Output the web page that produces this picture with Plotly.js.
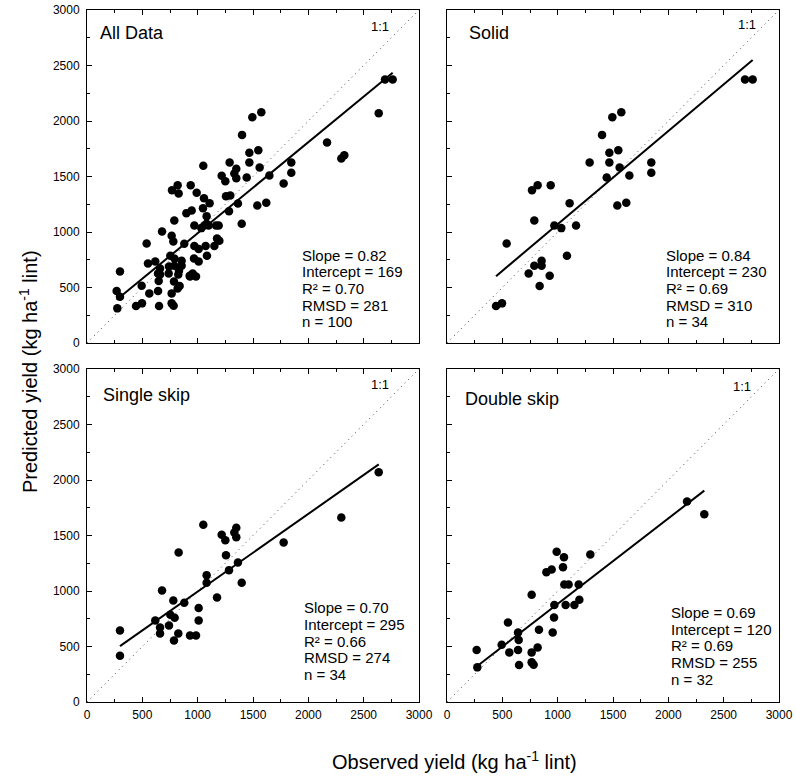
<!DOCTYPE html>
<html>
<head>
<meta charset="utf-8">
<script src="https://cdn.plot.ly/plotly-3.0.1.min.js"></script>
<style>html,body{margin:0;padding:0;background:#fff;}#chart{width:796px;height:782px;}</style>
</head>
<body>
<div id="chart"></div>
<script>
// ---- Data ----
const panelNames = ["All Data", "Solid", "Single skip", "Double skip"];

const solidObs  = [443, 497, 539, 738, 789, 855, 855, 837, 928, 789, 768, 819, 937, 970, 1033, 1084, 1108, 1166, 1289, 1401, 1443, 1467, 1467, 1494, 1548, 1575, 1560, 1648, 1539, 1620, 1846, 1846, 2693, 2762];
const solidPred = [333, 357, 897, 627, 696, 741, 696, 513, 606, 1104, 1377, 1422, 1422, 1059, 1035, 786, 1260, 1059, 1626, 1875, 1491, 1713, 1626, 2034, 1737, 2079, 1581, 1509, 1239, 1263, 1626, 1533, 2373, 2373];

const singleObs  = [298, 298, 617, 660, 660, 678, 741, 753, 780, 792, 786, 825, 828, 879, 931, 985, 1009, 1009, 1051, 1081, 1081, 1175, 1217, 1250, 1256, 1283, 1331, 1349, 1349, 1364, 1398, 1777, 2298, 2636];
const singlePred = [645, 417, 735, 672, 618, 1005, 690, 786, 915, 759, 555, 618, 1347, 894, 600, 600, 846, 735, 1596, 1074, 1143, 942, 1506, 1458, 1323, 1188, 1527, 1569, 1485, 1257, 1074, 1437, 1662, 2070];

const doubleObs  = [268, 274, 494, 551, 563, 642, 648, 642, 651, 765, 765, 765, 783, 819, 831, 898, 946, 955, 967, 970, 991, 1048, 1057, 1060, 1099, 1072, 1151, 1190, 1196, 1295, 2169, 2325];
const doublePred = [468, 312, 516, 717, 447, 627, 558, 468, 333, 966, 447, 357, 336, 492, 651, 1170, 1194, 627, 762, 873, 1353, 1215, 1305, 1059, 1059, 873, 873, 1059, 921, 1329, 1806, 1692];

// All Data panel = union of the three treatments (34 + 34 + 32 = 100)
const allObs  = solidObs.concat(singleObs, doubleObs);
const allPred = solidPred.concat(singlePred, doublePred);

// Statistics printed in each panel
const statSlope     = [0.82, 0.84, 0.70, 0.69];
const statIntercept = [169, 230, 295, 120];
const statR2        = [0.70, 0.69, 0.66, 0.69];
const statRMSD      = [281, 310, 274, 255];
const statN         = [100, 34, 34, 32];

// Regression line as drawn in each panel
const fitSlope     = [0.82, 0.84, 0.70, 0.77];
const fitIntercept = [169, 230, 295, 114];

const axisTicks = [0, 500, 1000, 1500, 2000, 2500, 3000];

// ---- Layout / style config ----
const FONT = "Liberation Sans, Arial, Helvetica, sans-serif";
const W = 796, H = 782;
const xDom = [[87 / W, 419 / W], [447 / W, 779 / W]];
const yDom = [[1 - 343 / H, 1 - 10 / H], [1 - 702 / H, 1 - 369 / H]];

const obsSets  = [allObs, solidObs, singleObs, doubleObs];
const predSets = [allPred, solidPred, singlePred, doublePred];

const titlePos = [[100, 2793], [180, 2793], [124, 2766], [142, 2730]];
const onePos   = [[2647, 2847], [2710, 2865], [2647, 2856], [2665, 2838]];
const statPos  = [[1925, 792], [1961, 792], [1946, 849], [2009, 807]];
const statStep = 150;

const traces = [];
const annotations = [];
const layout = {
  width: W, height: H,
  margin: {l: 0, r: 0, t: 0, b: 0},
  paper_bgcolor: "#ffffff",
  plot_bgcolor: "#ffffff",
  showlegend: false,
  font: {family: FONT, size: 12, color: "#000"},
  annotations: annotations
};

for (let i = 0; i < 4; i++) {
  const sfx = i === 0 ? "" : String(i + 1);
  const xa = "x" + sfx, ya = "y" + sfx;
  const col = i % 2, row = Math.floor(i / 2);

  const common = {
    range: [0, 3000],
    tickmode: "array",
    tickvals: axisTicks,
    ticktext: axisTicks.map(String),
    ticks: "inside",
    ticklen: 5,
    tickwidth: 1,
    tickcolor: "#000",
    minor: {ticks: "inside", dtick: 250, tick0: 0, ticklen: 3, tickwidth: 1, tickcolor: "#000"},
    showline: true,
    linecolor: "#000",
    linewidth: 1,
    showgrid: false,
    zeroline: false,
    fixedrange: true,
    tickfont: {family: FONT, size: 12, color: "#000"}
  };

  layout["xaxis" + sfx] = Object.assign({}, common, {
    domain: xDom[col],
    anchor: ya,
    mirror: "ticks",
    showticklabels: row === 1,
    ticklabelstandoff: 2
  });
  layout["yaxis" + sfx] = Object.assign({}, common, {
    domain: yDom[row],
    anchor: xa,
    mirror: true,
    showticklabels: col === 0,
    ticklabelstandoff: 4
  });

  // 1:1 dotted line
  traces.push({
    type: "scatter", mode: "lines", xaxis: xa, yaxis: ya,
    x: [axisTicks[0], axisTicks[axisTicks.length - 1]],
    y: [axisTicks[0], axisTicks[axisTicks.length - 1]],
    line: {color: "#444", width: 1, dash: "1px,4px"},
    hoverinfo: "skip"
  });

  // regression line from min to max observed
  const obs = obsSets[i], pred = predSets[i];
  const xmin = Math.min.apply(null, obs), xmax = Math.max.apply(null, obs);
  traces.push({
    type: "scatter", mode: "lines", xaxis: xa, yaxis: ya,
    x: [xmin, xmax],
    y: [fitSlope[i] * xmin + fitIntercept[i], fitSlope[i] * xmax + fitIntercept[i]],
    line: {color: "#000", width: 2},
    hoverinfo: "skip"
  });

  // points
  traces.push({
    type: "scatter", mode: "markers", xaxis: xa, yaxis: ya,
    x: obs, y: pred,
    marker: {color: "#000", size: 8.5, line: {width: 0}},
    cliponaxis: false
  });

  // panel title
  annotations.push({
    xref: xa, yref: ya, x: titlePos[i][0], y: titlePos[i][1],
    text: panelNames[i], showarrow: false, xanchor: "left", yanchor: "middle",
    font: {family: FONT, size: 18, color: "#000"}
  });
  // 1:1 label
  annotations.push({
    xref: xa, yref: ya, x: onePos[i][0], y: onePos[i][1],
    text: "1:1", showarrow: false, xanchor: "center", yanchor: "middle",
    font: {family: FONT, size: 13, color: "#000"}
  });
  // statistics
  const lines = [
    "Slope = " + statSlope[i].toFixed(2),
    "Intercept = " + statIntercept[i],
    "R\u00B2 = " + statR2[i].toFixed(2),
    "RMSD = " + statRMSD[i],
    "n = " + statN[i]
  ];
  lines.forEach(function (t, k) {
    annotations.push({
      xref: xa, yref: ya, x: statPos[i][0], y: statPos[i][1] - k * statStep,
      text: t, showarrow: false, xanchor: "left", yanchor: "middle",
      font: {family: FONT, size: 15, color: "#000"}
    });
  });
}

// Shared axis titles
annotations.push({
  xref: "paper", yref: "paper", x: 455 / W, y: 1 - 760 / H,
  text: "Observed yield (kg ha<sup>-1</sup> lint)", showarrow: false,
  xanchor: "center", yanchor: "middle",
  font: {family: FONT, size: 20, color: "#000"}
});
annotations.push({
  xref: "paper", yref: "paper", x: 28 / W, y: 1 - 372 / H,
  text: "Predicted yield (kg ha<sup>-1</sup> lint)", showarrow: false, textangle: -90,
  xanchor: "center", yanchor: "middle",
  font: {family: FONT, size: 20, color: "#000"}
});

Plotly.newPlot("chart", traces, layout, {displayModeBar: false, staticPlot: true});
</script>
</body>
</html>
